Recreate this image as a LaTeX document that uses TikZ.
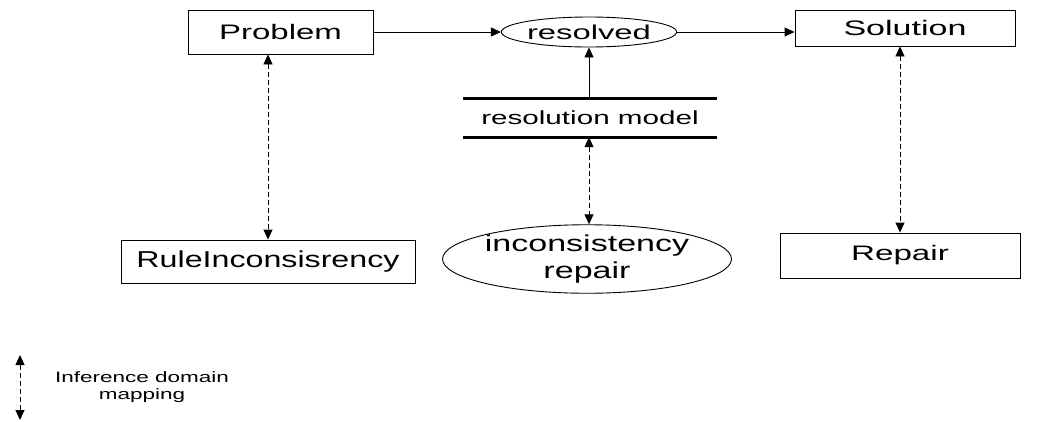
\documentclass[tikz,border=0pt]{standalone}
\usepackage{fontspec}
\setmainfont{Liberation Sans}
\usetikzlibrary{arrows.meta,shapes.geometric}
\newcommand{\tfnt}[3]{\fontsize{#1}{#2}\selectfont\addfontfeature{FakeStretch=#3}}
\begin{document}
\begin{tikzpicture}[x=1pt,y=-1pt,
  box/.style={draw,line width=0.9pt,inner sep=0pt},
  oval/.style={draw,ellipse,line width=0.9pt,inner sep=0pt},
  tip/.style={-{Triangle[length=10pt,width=9pt]}},
  dtip/.style={{Triangle[length=10pt,width=9pt]}-{Triangle[length=10pt,width=9pt]},dash pattern=on 5pt off 3pt},
  conn/.style={line width=0.9pt}]
\useasboundingbox[fill=white] (0,0) rectangle (1048,421);

\node[box,minimum width=185pt,minimum height=44pt,font={\tfnt{21}{25}{1.57}}] (prob) at (280.5,32) {Problem};
\node[oval,minimum width=158pt,minimum height=30pt,font={\tfnt{20}{24}{1.64}}] (res) at (589,32) {resolved};
\node[box,minimum width=220pt,minimum height=36pt,font={\tfnt{21}{25}{1.62}}] (sol) at (905,28) {Solution};
\node[inner sep=0pt,minimum width=254pt,minimum height=38pt,font={\tfnt{19}{23}{1.56}}] (rm) at (590,118) {resolution model};
\draw[line width=3pt] (rm.north west) -- (rm.north east);
\draw[line width=3pt] (rm.south west) -- (rm.south east);
\node[oval,minimum width=266pt,minimum height=67pt,align=center,font={\tfnt{23}{27}{1.48}}] (inc) at (587,259) {inconsistency\\repair};
\node[box,minimum width=294pt,minimum height=43pt,font={\tfnt{23}{27}{1.4}}] (rule) at (268,261.5) {RuleInconsisrency};
\node[box,minimum width=240pt,minimum height=45pt,font={\tfnt{21}{25}{1.58}}] (rep) at (900,255.5) {Repair};

\draw[conn,tip] (prob.east) -- (res.west);
\draw[conn,tip] (res.east) -- (res.east -| sol.west);
\draw[conn,tip] (rm.north -| res.south) -- (res.south);
\draw[conn,dtip] (rm.south -| res.south) -- (inc.north -| res.south);
\draw[conn,dtip] (prob.south -| rule.north) -- (rule.north);
\draw[conn,dtip] (sol.south -| rep.north) -- (rep.north);

\coordinate (lt) at (20,355);
\coordinate (lb) at (20,420);
\draw[conn,dtip] (lt) -- (lb);
\node[align=center,inner sep=0pt,font={\tfnt{15}{17}{1.5}}] (leg) at (142,387) {Inference domain\\mapping};
\end{tikzpicture}
\end{document}
